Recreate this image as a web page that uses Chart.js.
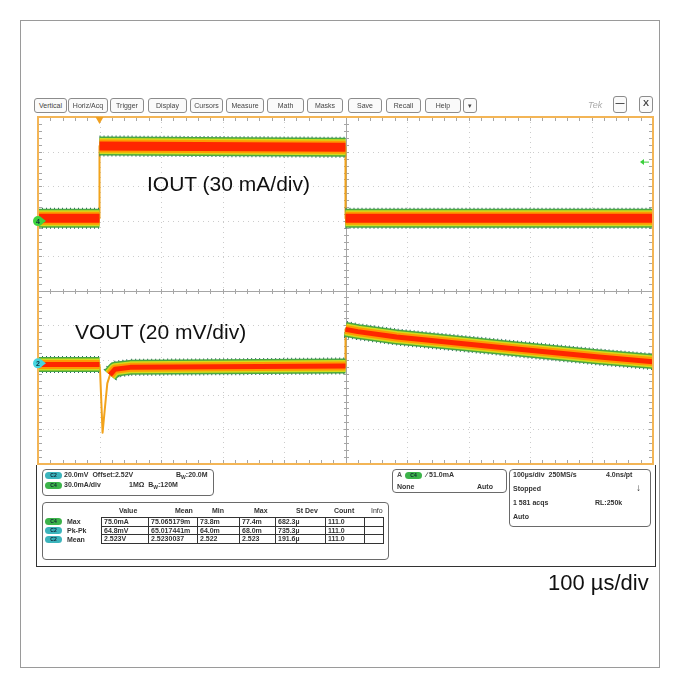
<!DOCTYPE html>
<html>
<head>
<meta charset="utf-8">
<script src="https://cdn.jsdelivr.net/npm/chart.js@4.4.1/dist/chart.umd.min.js"></script>
<style>
body{margin:0;background:#fff;font-family:"Liberation Sans",Arial,sans-serif}
#wrap{position:relative;width:679px;height:687px;overflow:hidden}
#frame{position:absolute;left:20px;top:20px;width:638px;height:646px;border:1px solid #9a9a9a}
canvas{position:absolute;left:0;top:0}
.btn{position:absolute;top:98px;height:13px;border:1px solid #8c8c8c;border-radius:3px;background:#fafafa;font-size:7px;color:#444;text-align:center;line-height:13px}
.note{position:absolute;font-size:21px;color:#111;white-space:nowrap;line-height:1}
.t{position:absolute;font-size:7px;font-weight:bold;color:#333;white-space:nowrap;line-height:8px}
.box{position:absolute;border:1px solid #6a6a6a;border-radius:4px}
.pill{position:absolute;width:17px;height:7px;border-radius:4px;font-size:5px;line-height:7px;text-align:center;color:#123;font-weight:bold}
.c2{background:#3cb4bc}
.c4{background:#3cb34a}
#meas{position:absolute;left:101px;top:517px;border-collapse:collapse;font-size:7px;font-weight:bold;color:#333}
#meas td{border:1px solid #333;padding:0 2px;height:7.6px;line-height:7px;white-space:nowrap}
</style>
</head>
<body>
<div id="wrap">
<div id="frame"></div>
<canvas id="scope" width="679" height="687"></canvas>

<div class="btn" style="left:34px;width:31px">Vertical</div>
<div class="btn" style="left:68px;width:38px">Horiz/Acq</div>
<div class="btn" style="left:110px;width:32px">Trigger</div>
<div class="btn" style="left:148px;width:37px">Display</div>
<div class="btn" style="left:190px;width:31px">Cursors</div>
<div class="btn" style="left:226px;width:36px">Measure</div>
<div class="btn" style="left:267px;width:35px">Math</div>
<div class="btn" style="left:307px;width:34px">Masks</div>
<div class="btn" style="left:348px;width:32px">Save</div>
<div class="btn" style="left:386px;width:33px">Recall</div>
<div class="btn" style="left:425px;width:34px">Help</div>
<div class="btn" style="left:463px;width:12px">&#9662;</div>
<div class="t" style="left:588px;top:101px;font-size:9px;font-weight:normal;color:#aaa;font-style:italic">Tek</div>
<div class="btn" style="left:613px;top:96px;width:12px;height:15px;font-size:9px;font-weight:bold">&#8212;</div>
<div class="btn" style="left:639px;top:96px;width:12px;height:15px;font-size:9px;font-weight:bold">X</div>

<div class="note" style="left:147px;top:173px">IOUT (30 mA/div)</div>
<div class="note" style="left:75px;top:321px">VOUT (20 mV/div)</div>
<div class="note" style="left:548px;top:572px;font-size:22px">100 µs/div</div>

<div style="position:absolute;left:36px;top:465px;width:618px;height:101px;border:1px solid #333;border-top:none"></div>

<div class="box" style="left:42px;top:469px;width:170px;height:25px"></div>
<div class="pill c2" style="left:45px;top:472px">C2</div>
<div class="t" style="left:64px;top:471px">20.0mV&nbsp; Offset:2.52V</div>
<div class="t" style="left:176px;top:471px">B<sub style="font-size:5px">W</sub>:20.0M</div>
<div class="pill c4" style="left:45px;top:482px">C4</div>
<div class="t" style="left:64px;top:481px">30.0mA/div</div>
<div class="t" style="left:129px;top:481px">1MΩ&nbsp; B<sub style="font-size:5px">W</sub>:120M</div>

<div class="box" style="left:42px;top:502px;width:345px;height:56px"></div>
<div class="t" style="left:119px;top:507px">Value</div>
<div class="t" style="left:175px;top:507px">Mean</div>
<div class="t" style="left:212px;top:507px">Min</div>
<div class="t" style="left:254px;top:507px">Max</div>
<div class="t" style="left:296px;top:507px">St Dev</div>
<div class="t" style="left:334px;top:507px">Count</div>
<div class="t" style="left:371px;top:507px;font-weight:normal">Info</div>
<div class="pill c4" style="left:45px;top:518px">C4</div>
<div class="t" style="left:67px;top:518px">Max</div>
<div class="pill c2" style="left:45px;top:527px">C2</div>
<div class="t" style="left:67px;top:527px">Pk-Pk</div>
<div class="pill c2" style="left:45px;top:536px">C2</div>
<div class="t" style="left:67px;top:536px">Mean</div>
<table id="meas">
<tr><td style="width:42px">75.0mA</td><td style="width:44px">75.065179m</td><td style="width:37px">73.8m</td><td style="width:31px">77.4m</td><td style="width:45px">682.3µ</td><td style="width:34px">111.0</td><td style="width:14px"></td></tr>
<tr><td>64.8mV</td><td>65.017441m</td><td>64.0m</td><td>68.0m</td><td>735.3µ</td><td>111.0</td><td></td></tr>
<tr><td>2.523V</td><td>2.5230037</td><td>2.522</td><td>2.523</td><td>191.6µ</td><td>111.0</td><td></td></tr>
</table>

<div class="box" style="left:392px;top:469px;width:113px;height:22px"></div>
<div class="t" style="left:397px;top:471px;color:#555">A</div>
<div class="pill c4" style="left:405px;top:472px">C4</div>
<div class="t" style="left:426px;top:471px">&#8725; 51.0mA</div>
<div class="t" style="left:397px;top:483px">None</div>
<div class="t" style="left:477px;top:483px">Auto</div>

<div class="box" style="left:509px;top:469px;width:140px;height:56px"></div>
<div class="t" style="left:513px;top:471px">100µs/div&nbsp; 250MS/s</div>
<div class="t" style="left:606px;top:471px">4.0ns/pt</div>
<div class="t" style="left:513px;top:485px">Stopped</div>
<div class="t" style="left:636px;top:484px;font-size:10px">&#8595;</div>
<div class="t" style="left:513px;top:499px">1 581 acqs</div>
<div class="t" style="left:595px;top:499px">RL:250k</div>
<div class="t" style="left:513px;top:513px">Auto</div>
</div>

<script>
// time axis, µs (trigger at 0, 100 µs/div)
var timeDivs = [-100, 0, 100, 200, 300, 400, 500, 600, 700, 800, 900];
// IOUT, mA (30 mA/div, ch4 ref at +2 div)
var iTime = [-100, 0, 0, 400, 400, 900];
var iOut = [2.4, 2.4, 65, 63.8, 2.4, 2.4];
var iBandRanges = [[0, 1], [2, 3], [4, 5]];
var iDivs = [-210, -180, -150, -120, -90, -60, -30, 0, 30, 60, 90];
// VOUT, V (20 mV/div, offset 2.52 V)
var vTime = [-100, 0, 1, 5, 9, 12.7, 17, 25, 50, 400, 400, 420, 483, 645, 808, 900];
var vOut = [2.5193, 2.5193, 2.515, 2.480, 2.495, 2.5085, 2.5133, 2.5166, 2.5177, 2.5185, 2.5396, 2.5383, 2.5352, 2.5295, 2.5238, 2.5210];
var vBandRanges = [[0, 1], [6, 9], [10, 15]];
var vMin = 2.462, vMax = 2.662;
var trigLevel = 51.0;

function pts(t, v) {
  return t.map(function(x, i) { return {x: x, y: v[i]}; });
}
function band(t, v, ranges) {
  var out = [];
  ranges.forEach(function(r, k) {
    if (k > 0) out.push({x: t[r[0]], y: null});
    for (var i = r[0]; i <= r[1]; i++) out.push({x: t[i], y: v[i]});
  });
  return out;
}

var layers = [
  {c: '#2d6a62', w: 2, dash: [1, 3]},
  {c: '#4aa840', w: 0},
  {c: '#d2dc1c', w: -3},
  {c: '#ff9a00', w: -6},
  {c: '#ff2600', w: -10}
];

var datasets = [];
function addTrace(t, v, ranges, axis, width) {
  datasets.push({data: pts(t, v), yAxisID: axis, borderColor: '#f2a31b', borderWidth: 2, order: 10});
  var b = band(t, v, ranges);
  layers.forEach(function(l, k) {
    datasets.push({
      data: b, yAxisID: axis, borderColor: l.c, borderWidth: width + l.w,
      borderDash: l.dash || [], order: 9 - k, borderCapStyle: 'butt', spanGaps: false
    });
  });
}
addTrace(iTime, iOut, iBandRanges, 'yI', 19);
addTrace(vTime, vOut, vBandRanges, 'yV', 15);

function seg(ctx, x1, y1, x2, y2) {
  ctx.beginPath(); ctx.moveTo(x1, y1); ctx.lineTo(x2, y2); ctx.stroke();
}

var scopeGrid = {
  id: 'scopeGrid',
  beforeDatasetsDraw: function(chart) {
    var ctx = chart.ctx, a = chart.chartArea, x = chart.scales.x, y = chart.scales.yI;
    var cx = Math.round(x.getPixelForValue(400)) + 0.5;
    var cy = Math.round(y.getPixelForValue(-60)) + 0.5;
    ctx.save();
    ctx.lineWidth = 1;
    ctx.strokeStyle = '#cccccc';
    ctx.setLineDash([1, 4]);
    timeDivs.slice(1, -1).forEach(function(t) {
      if (t === 400) return;
      var px = Math.round(x.getPixelForValue(t)) + 0.5;
      seg(ctx, px, a.top, px, a.bottom);
    });
    iDivs.slice(1, -1).forEach(function(v) {
      if (v === -60) return;
      var py = Math.round(y.getPixelForValue(v)) + 0.5;
      seg(ctx, a.left, py, a.right, py);
    });
    ctx.setLineDash([]);
    ctx.strokeStyle = '#a6a6a6';
    seg(ctx, a.left, cy, a.right, cy);
    seg(ctx, cx, a.top, cx, a.bottom);
    // minor ticks, 5 per division
    for (var t = -100; t <= 900; t += 20) {
      var px = Math.round(x.getPixelForValue(t)) + 0.5;
      seg(ctx, px, cy - 2.5, px, cy + 2.5);
      seg(ctx, px, a.top, px, a.top + 4);
      seg(ctx, px, a.bottom - 4, px, a.bottom);
    }
    for (var v = -210; v <= 90; v += 6) {
      var py = Math.round(y.getPixelForValue(v)) + 0.5;
      seg(ctx, cx - 2.5, py, cx + 2.5, py);
      seg(ctx, a.left, py, a.left + 4, py);
      seg(ctx, a.right - 4, py, a.right, py);
    }
    ctx.restore();
  },
  afterDatasetsDraw: function(chart) {
    var ctx = chart.ctx, a = chart.chartArea, x = chart.scales.x;
    ctx.save();
    ctx.strokeStyle = '#f3b556';
    ctx.lineWidth = 2;
    ctx.strokeRect(a.left, a.top, a.right - a.left, a.bottom - a.top);
    // trigger position marker
    var tx = x.getPixelForValue(0);
    ctx.fillStyle = '#f0a020';
    ctx.beginPath(); ctx.moveTo(tx - 4, a.top); ctx.lineTo(tx + 4, a.top); ctx.lineTo(tx, a.top + 7); ctx.fill();
    // trigger level arrow
    var ty = chart.scales.yI.getPixelForValue(trigLevel);
    ctx.fillStyle = '#3ccf3c'; ctx.strokeStyle = '#3ccf3c'; ctx.lineWidth = 1;
    ctx.beginPath(); ctx.moveTo(a.right - 13, ty); ctx.lineTo(a.right - 9, ty - 3); ctx.lineTo(a.right - 9, ty + 3); ctx.fill();
    seg(ctx, a.right - 9, ty, a.right - 4, ty);
    // channel reference markers
    function marker(py, fill, label) {
      ctx.fillStyle = fill;
      ctx.beginPath(); ctx.arc(a.left, py, 5, 0, Math.PI * 2); ctx.fill();
      ctx.beginPath(); ctx.moveTo(a.left + 4, py - 3); ctx.lineTo(a.left + 8, py); ctx.lineTo(a.left + 4, py + 3); ctx.fill();
      ctx.fillStyle = '#134';
      ctx.font = 'bold 7px "Liberation Sans", Arial';
      ctx.textAlign = 'center'; ctx.textBaseline = 'middle';
      ctx.fillText(label, a.left, py + 0.5);
    }
    marker(chart.scales.yI.getPixelForValue(0), '#3ed43e', '4');
    marker(chart.scales.yV.getPixelForValue(2.52), '#46d6e0', '2');
    ctx.restore();
  }
};

new Chart(document.getElementById('scope'), {
  type: 'line',
  data: {datasets: datasets},
  options: {
    responsive: false,
    animation: false,
    layout: {padding: {left: 38, top: 117, right: 26, bottom: 223}},
    elements: {point: {radius: 0}, line: {tension: 0, borderJoinStyle: 'round'}},
    plugins: {legend: {display: false}, tooltip: {enabled: false}},
    scales: {
      x: {type: 'linear', min: -100, max: 900, display: false},
      yI: {type: 'linear', min: -210, max: 90, display: false},
      yV: {type: 'linear', min: vMin, max: vMax, display: false}
    }
  },
  plugins: [scopeGrid]
});
</script>
</body>
</html>
